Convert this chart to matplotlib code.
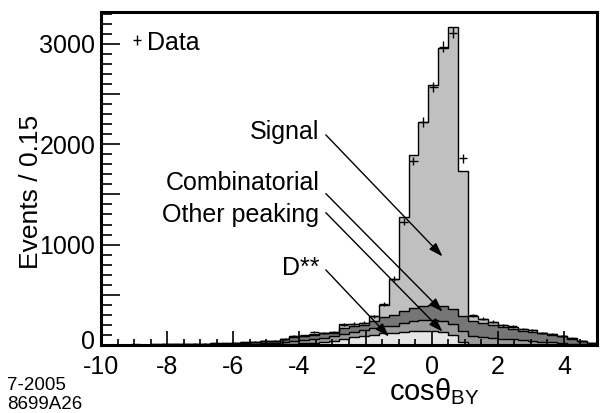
import numpy as np
import matplotlib
matplotlib.use("Agg")
import matplotlib.pyplot as plt
import matplotlib.transforms as mtransforms
from matplotlib.ticker import MultipleLocator

plt.rcParams['font.family'] = ['Liberation Sans', 'DejaVu Sans']
plt.rcParams['axes.unicode_minus'] = False
plt.rcParams['mathtext.fontset'] = 'custom'
plt.rcParams['mathtext.rm'] = 'Liberation Sans'
plt.rcParams['mathtext.it'] = 'Liberation Sans'

# 50 bins of width 0.3 from -10 to 5
edges = np.linspace(-10.0, 5.0, 51)

dstarstar = [0, 0, 0, 0, 0, 0, 0, 0, 0, 0,
             0, 0, 0, 2, 3, 4, 5, 7, 10, 15,
             20, 25, 35, 45, 60, 75, 85, 100, 117, 117,
             133, 138, 140, 140, 130, 100, 35, 0, 0, 0,
             0, 0, 0, 0, 0, 0, 0, 0, 0, 0]

other_peaking = [0, 0, 0, 0, 1, 1, 1, 2, 2, 3,
                 3, 4, 5, 6, 8, 9, 12, 14, 18, 25,
                 28, 33, 38, 40, 50, 55, 60, 70, 75, 75,
                 90, 100, 105, 110, 113, 110, 100, 90, 80, 72,
                 62, 55, 48, 42, 35, 28, 22, 15, 10, 4]

combinatorial = [2, 2, 3, 4, 4, 4, 5, 5, 6, 7,
                 8, 9, 10, 12, 14, 15, 20, 22, 28, 40,
                 40, 45, 45, 35, 60, 60, 55, 70, 90, 108,
                 120, 130, 140, 145, 147, 150, 150, 150, 140, 130,
                 115, 105, 95, 92, 80, 70, 63, 48, 30, 12]

signal = [1, 1, 1, 1, 0, 1, 1, 1, 2, 2,
          3, 3, 3, 2, 2, 2, 3, 2, 4, 10,
          5, 7, 5, 5, 36, 24, 16, 50, 118, 355,
          930, 1526, 1841, 2197, 2568, 2810, 1453, 52, 39, 30,
          23, 22, 17, 16, 8, 7, 5, 4, 3, 1]

data = [3, 2, 4, 6, 5, 7, 6, 9, 11, 12,
        15, 17, 19, 21, 28, 31, 41, 44, 62, 92,
        95, 126, 121, 128, 204, 212, 220, 285, 405, 661,
        1229, 1834, 2223, 2569, 2971, 3110, 1861, 295, 262, 230,
        198, 185, 158, 152, 120, 106, 88, 68, 42, 16]

layers = [
    (dstarstar, "#e6e6e6"),
    (other_peaking, "#9a9a9a"),
    (combinatorial, "#767676"),
    (signal, "#c0c0c0"),
]

fig = plt.figure(figsize=(6.03, 4.13), dpi=100)
ax = fig.add_axes([0.1675, 0.1646, 0.8225, 0.8071])

bottom = np.zeros(len(edges) - 1)
for vals, col in layers:
    top = bottom + np.asarray(vals, dtype=float)
    ax.stairs(top, edges, baseline=bottom, fill=True, facecolor=col,
              edgecolor="none", zorder=1)
    ax.stairs(top, edges, baseline=None, color="black", lw=1.0, zorder=1.5)
    bottom = top

centers = 0.5 * (edges[:-1] + edges[1:])
dvals = np.asarray(data, dtype=float)
ax.errorbar(centers, dvals, xerr=0.13, yerr=np.sqrt(dvals), fmt="none",
            ecolor="black", elinewidth=1.0, capsize=0, zorder=3)

ax.set_xlim(-10, 5)

ax.xaxis.set_major_locator(MultipleLocator(2))
ax.xaxis.set_minor_locator(MultipleLocator(0.5))
ax.yaxis.set_minor_locator(MultipleLocator(100))
yt = np.arange(0, 3001, 500)
ax.set_yticks(yt)
ax.set_yticklabels([f"{int(v)}" if v % 1000 == 0 else "" for v in yt])
ax.tick_params(axis="both", which="both", direction="in", top=False, right=False,
               labelsize=18, width=1.2)
ax.tick_params(axis="y", which="major", length=14, pad=4)
ax.tick_params(axis="y", which="minor", length=8)
ax.tick_params(axis="x", which="major", length=10, pad=7)
ax.tick_params(axis="x", which="minor", length=4)
for s in ax.spines.values():
    s.set_linewidth(2.2)
ax.set_ylim(0, 3320)

# lift the "0" label slightly so it clears the -10 below it
zero_lbl = ax.get_yticklabels()[0]
zero_lbl.set_transform(zero_lbl.get_transform() +
                       mtransforms.ScaledTranslation(0, 4 / 72, fig.dpi_scale_trans))

fig.text(0.052, 0.535, "Events / 0.15", fontsize=19, rotation=90,
         ha="center", va="center")
fig.text(0.72, 0.030, r"cosθ$_{\mathrm{BY}}$", fontsize=21, ha="center",
         va="baseline")

# legend-style data marker
ax.errorbar([-8.9], [3040], xerr=0.12, yerr=50, fmt="none", ecolor="black",
            elinewidth=1.0)
ax.text(-8.6, 3010, "Data", fontsize=18, va="center", ha="left")

labels = [
    ("Signal", 2124, (-3.2, 2093), (0.33, 882)),
    ("Combinatorial", 1615, (-3.2, 1508), (0.33, 332)),
    ("Other peaking", 1296, (-3.2, 1318), (0.33, 133)),
    ("D**", 768, (-3.2, 748), (-1.29, 83)),
]
for txt, ty, start, tip in labels:
    ax.text(-3.4, ty, txt, fontsize=18, ha="right", va="center")
    ax.annotate("", xy=tip, xytext=start,
                arrowprops=dict(arrowstyle="-|>,head_length=0.6,head_width=0.2",
                                color="black", lw=1.0,
                                mutation_scale=14, shrinkA=0, shrinkB=0))

fig.text(0.012, 0.055, "7-2005", fontsize=13.5, ha="left")
fig.text(0.012, 0.010, "8699A26", fontsize=13.5, ha="left")

fig.savefig("out.png", dpi=100)
